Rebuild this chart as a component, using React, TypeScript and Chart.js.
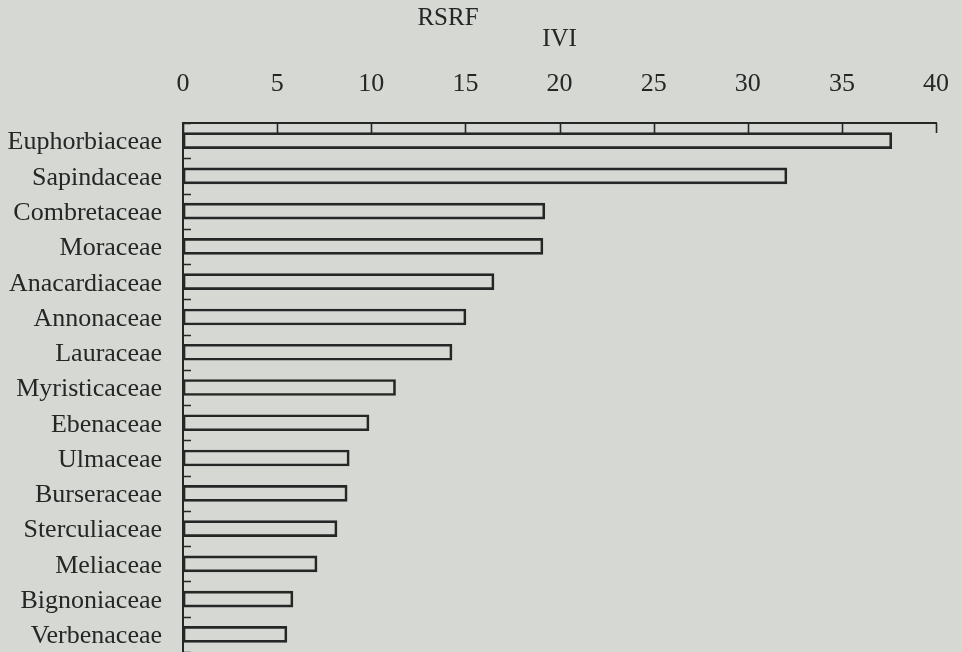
import React, { useEffect, useRef } from "react";
import { Chart, registerables } from "chart.js";

Chart.register(...registerables);

const families = [
  "Euphorbiaceae",
  "Sapindaceae",
  "Combretaceae",
  "Moraceae",
  "Anacardiaceae",
  "Annonaceae",
  "Lauraceae",
  "Myristicaceae",
  "Ebenaceae",
  "Ulmaceae",
  "Burseraceae",
  "Sterculiaceae",
  "Meliaceae",
  "Bignoniaceae",
  "Verbenaceae",
];

const iviValues = [37.65, 32.08, 19.22, 19.12, 16.52, 15.03, 14.29, 11.29, 9.88, 8.83, 8.72, 8.18, 7.12, 5.84, 5.52];

const xMin = 0;
const xMax = 40;
const xStep = 5;

const chartTitle = "RSRF";
const axisTitle = "IVI";

const INK = "#262626";
const BG = "rgb(213, 216, 211)";
const FONT = '"Liberation Serif", "Times New Roman", serif';

const innerTicks = {
  id: "innerTicks",
  afterDraw(chart: any) {
    const { ctx, chartArea, scales } = chart;
    const x = scales.x;
    const y = scales.y;
    ctx.save();
    ctx.strokeStyle = INK;
    ctx.lineWidth = 1.6;
    ctx.beginPath();
    x.ticks.forEach((t: any) => {
      const px = Math.round(x.getPixelForValue(t.value)) + 0.5;
      ctx.moveTo(px, chartArea.top);
      ctx.lineTo(px, chartArea.top + 10);
    });
    for (let i = 0; i <= families.length; i++) {
      const py = Math.round(y.getPixelForValue(i - 0.5)) + 0.5;
      ctx.moveTo(chartArea.left, py);
      ctx.lineTo(chartArea.left + 8, py);
    }
    ctx.stroke();
    ctx.fillStyle = INK;
    ctx.font = `25px ${FONT}`;
    ctx.textAlign = "center";
    ctx.textBaseline = "middle";
    ctx.fillText(chartTitle, chartArea.left + 265, 18);
    ctx.restore();
  },
};

export default function App() {
  const ref = useRef<HTMLCanvasElement | null>(null);

  useEffect(() => {
    if (!ref.current) return;
    const chart = new Chart(ref.current, {
      type: "bar",
      data: {
        labels: families,
        datasets: [
          {
            label: axisTitle,
            data: iviValues,
            backgroundColor: "rgba(0,0,0,0)",
            borderColor: INK,
            borderWidth: 2,
            borderSkipped: false,
            barThickness: 16,
          },
        ],
      },
      options: {
        indexAxis: "y",
        animation: false,
        responsive: true,
        maintainAspectRatio: false,
        events: [],
        layout: { padding: { left: 8, right: 26, top: 0, bottom: 0 } },
        plugins: {
          legend: { display: false },
          tooltip: { enabled: false },
          title: { display: false },
        },
        scales: {
          x: {
            type: "linear",
            position: "top",
            min: xMin,
            max: xMax,
            grid: { display: false, drawTicks: false },
            border: { display: true, color: INK, width: 2 },
            ticks: {
              stepSize: xStep,
              padding: 23,
              color: INK,
              font: { family: FONT, size: 26 },
            },
            title: {
              display: true,
              text: axisTitle,
              color: INK,
              font: { family: FONT, size: 25 },
              padding: { top: 24, bottom: 16 },
            },
            afterFit: (s: any) => {
              s.height = 123;
              s.paddingLeft = 0;
              s.paddingRight = 0;
            },
          },
          y: {
            type: "category",
            grid: { display: false, drawTicks: false },
            border: { display: true, color: INK, width: 2 },
            ticks: {
              autoSkip: false,
              padding: 21,
              labelOffset: 2,
              color: INK,
              font: { family: FONT, size: 26 },
            },
            afterFit: (s: any) => {
              s.width = 175;
              s.paddingTop = 0;
              s.paddingBottom = 0;
            },
          },
        },
      },
      plugins: [innerTicks],
    });
    return () => chart.destroy();
  }, []);

  return (
    <div
      style={{
        position: "absolute",
        left: 0,
        top: 0,
        width: 962,
        height: 652,
        background: BG,
      }}
    >
      <canvas ref={ref} />
    </div>
  );
}
